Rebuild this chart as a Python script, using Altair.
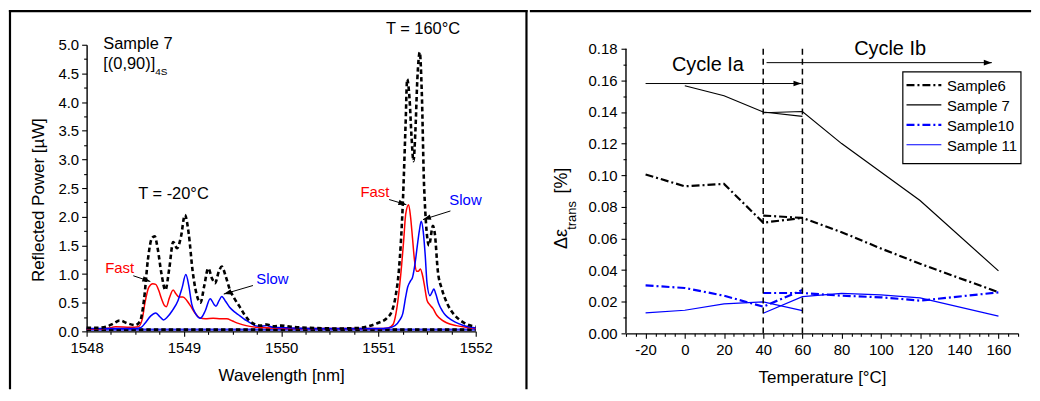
import altair as alt
import numpy as np
import pandas as pd

FONT = "Liberation Sans"

# ---------------- left panel: reflected spectra of sample 7 ----------------
total_wl = [1548.00, 1548.10, 1548.20, 1548.28, 1548.34, 1548.42, 1548.50, 1548.55, 1548.59,
            1548.63, 1548.67, 1548.70, 1548.73, 1548.77, 1548.81, 1548.85, 1548.89, 1548.93,
            1548.97, 1549.01, 1549.05, 1549.09, 1549.13, 1549.17, 1549.21, 1549.25, 1549.29,
            1549.32, 1549.36, 1549.39, 1549.43, 1549.47, 1549.52, 1549.57, 1549.62, 1549.67,
            1549.72, 1549.79, 1549.85, 1549.92, 1550.00, 1550.10, 1550.30, 1550.60, 1550.80,
            1550.90, 1551.00, 1551.08, 1551.14, 1551.18, 1551.21, 1551.25, 1551.28, 1551.295,
            1551.32, 1551.34, 1551.36, 1551.38, 1551.40, 1551.425, 1551.445, 1551.47, 1551.52,
            1551.56, 1551.58, 1551.61, 1551.65, 1551.69, 1551.74, 1551.79, 1551.86, 1551.93,
            1552.00]
total_p = [0.06, 0.06, 0.08, 0.14, 0.19, 0.14, 0.11, 0.18, 0.55,
           1.25, 1.62, 1.66, 1.45, 1.00, 0.72, 1.10, 1.56, 1.45,
           1.65, 2.03, 1.70, 1.05, 0.65, 0.50, 0.80, 1.10, 0.92,
           0.84, 1.05, 1.13, 0.96, 0.74, 0.57, 0.44, 0.30, 0.19,
           0.13, 0.10, 0.12, 0.09, 0.10, 0.08, 0.06, 0.05, 0.06,
           0.09, 0.15, 0.22, 0.36, 0.65, 1.06, 2.21, 3.66, 4.40,
           4.05, 3.40, 2.97, 3.50, 4.40, 4.87, 4.20, 2.50, 1.50,
           1.84, 1.70, 1.06, 0.75, 0.55, 0.38, 0.27, 0.17, 0.11,
           0.08]

fast_wl = [1548.00, 1548.20, 1548.30, 1548.45, 1548.53, 1548.57, 1548.60, 1548.64, 1548.68,
           1548.71, 1548.74, 1548.77, 1548.80, 1548.82, 1548.85, 1548.89, 1548.92, 1548.95,
           1548.99, 1549.03, 1549.07, 1549.11, 1549.16, 1549.22, 1549.30, 1549.38, 1549.44,
           1549.50, 1549.56, 1549.64, 1549.75, 1549.90, 1550.20, 1550.80, 1551.00, 1551.10,
           1551.15, 1551.18, 1551.23, 1551.26, 1551.28, 1551.31, 1551.33, 1551.35, 1551.37,
           1551.39, 1551.41, 1551.43, 1551.45, 1551.47, 1551.50, 1551.53, 1551.56, 1551.60,
           1551.65, 1551.70, 1551.80, 1551.90, 1552.00]
fast_p = [0.04, 0.05, 0.08, 0.07, 0.08, 0.20, 0.50, 0.77, 0.83,
          0.82, 0.72, 0.57, 0.45, 0.43, 0.58, 0.72, 0.65, 0.60,
          0.60, 0.54, 0.44, 0.33, 0.24, 0.22, 0.23, 0.22, 0.22,
          0.18, 0.14, 0.10, 0.07, 0.06, 0.05, 0.05, 0.05, 0.06,
          0.12, 0.31, 1.00, 1.60, 2.04, 2.21, 2.00, 1.63, 1.25,
          1.05, 1.05, 1.09, 1.00, 0.83, 0.54, 0.46, 0.40, 0.28,
          0.20, 0.15, 0.10, 0.07, 0.05]

slow_wl = [1548.00, 1548.50, 1548.56, 1548.60, 1548.66, 1548.71, 1548.75, 1548.79, 1548.83,
           1548.88, 1548.94, 1548.98, 1549.02, 1549.05, 1549.08, 1549.12, 1549.17, 1549.22,
           1549.27, 1549.31, 1549.33, 1549.36, 1549.39, 1549.43, 1549.47, 1549.52, 1549.56,
           1549.60, 1549.64, 1549.69, 1549.73, 1549.78, 1549.85, 1549.92, 1550.10, 1550.50,
           1551.00, 1551.10, 1551.17, 1551.22, 1551.25, 1551.28, 1551.30, 1551.33, 1551.35,
           1551.38, 1551.40, 1551.42, 1551.44, 1551.46, 1551.48, 1551.50, 1551.53, 1551.55,
           1551.57, 1551.59, 1551.62, 1551.66, 1551.69, 1551.75, 1551.83, 1551.92, 1552.00]
slow_p = [0.05, 0.05, 0.07, 0.14, 0.27, 0.32, 0.26, 0.20, 0.25,
          0.36, 0.54, 0.75, 0.99, 0.80, 0.48, 0.31, 0.23, 0.36,
          0.57, 0.47, 0.44, 0.53, 0.61, 0.52, 0.42, 0.34, 0.29,
          0.24, 0.19, 0.14, 0.10, 0.09, 0.10, 0.07, 0.06, 0.05,
          0.05, 0.06, 0.10, 0.20, 0.31, 0.60, 0.77, 0.88, 0.94,
          1.23, 1.50, 1.75, 1.92, 1.75, 1.35, 0.83, 0.62, 0.68,
          0.74, 0.65, 0.48, 0.35, 0.28, 0.20, 0.13, 0.08, 0.06]

base_wl = [1548.0, 1552.0]
base_p = [0.03, 0.03]

# ---------------- right panel: transverse strain difference ----------------
temp_ia = [-20, 0, 20, 40, 60]
temp_ib = [40, 60, 80, 100, 120, 160]
s6_ia = [0.1005, 0.0930, 0.0945, 0.0700, 0.0730]
s6_ib = [0.0745, 0.0730, 0.0640, 0.0537, 0.0440, 0.0260]
s7_ia = [np.nan, 0.1566, 0.1503, 0.1400, 0.1372]
s7_ib = [0.1395, 0.1403, 0.1200, 0.1020, 0.0840, 0.0395]
s10_ia = [0.0303, 0.0287, 0.0238, 0.0169, 0.0274]
s10_ib = [0.0255, 0.0255, 0.0238, 0.0228, 0.0207, 0.0259]
s11_ia = [0.0130, 0.0146, 0.0186, 0.0199, 0.0144]
s11_ib = [0.0127, 0.0232, 0.0253, 0.0243, 0.0224, 0.0109]
series_names = ["Sample6", "Sample 7", "Sample10", "Sample 11"]

# ---------------- helpers ----------------
W1, H1 = 391, 288
W2, H2 = 394, 290
Y2_TOP = 0.18 * 290.3 / 286.3   # right y-axis ends at 0.18, 4 px below the panel top


def make_axis(values, test, label, title, **kw):
    return alt.Axis(
        values=values,
        labelExpr=f"({test}) ? {label} : ''",
        tickSize={"condition": {"test": test, "value": 5}, "value": 3},
        title=title,
        grid=False,
        domainColor="black", domainWidth=1.4,
        tickColor="black", tickWidth=1.1,
        labelColor="black", labelFont=FONT, labelFontSize=15,
        titleColor="black", titleFont=FONT, titleFontSize=17, titleFontWeight="normal",
        labelOverlap=False, labelFlush=False,
        **kw,
    )


def rule_px(chart_df, **enc):
    return alt.Chart(chart_df).mark_rule(color="black", strokeWidth=2.2, strokeCap="square").encode(**enc)


ARROW = "M0,0L-2,-0.7L-2,0.7Z"
one = pd.DataFrame({"a": [0]})

# ================= LEFT PANEL =================
xs1 = alt.Scale(domain=[1548, 1552], nice=False, zero=False)
ys1 = alt.Scale(domain=[0, 5], nice=False, zero=False)
ax1x = make_axis([1548 + 0.25 * i for i in range(17)], "datum.value % 1 === 0",
                 "format(datum.value, 'd')", "Wavelength [nm]",
                 labelPadding=4, titleY=44, titleBaseline="middle")
ax1y = make_axis([0.25 * i for i in range(21)], "(datum.value * 2) % 1 === 0",
                 "format(datum.value, '.1f')", "Reflected Power [µW]",
                 labelPadding=3, titleX=-48.7, titleY=155.6, titleAlign="center",
                 titleBaseline="middle", titleAngle=270)
X1 = alt.X("wl:Q", scale=xs1, axis=ax1x)
Y1 = alt.Y("p:Q", scale=ys1, axis=ax1y)


def spec(wl, p):
    return pd.DataFrame({"wl": wl, "p": p})


base_blue = alt.Chart(spec(base_wl, base_p)).mark_line(color="#3030ff", strokeWidth=2.2).encode(x=X1, y=Y1)
base_dash = alt.Chart(spec(base_wl, base_p)).mark_line(color="black", strokeWidth=2.6, strokeDash=[4.5, 3]).encode(x=X1, y=Y1)
fast_line = alt.Chart(spec(fast_wl, fast_p)).mark_line(color="#ff0000", strokeWidth=1.5, interpolate="monotone").encode(x=X1, y=Y1)
slow_line = alt.Chart(spec(slow_wl, slow_p)).mark_line(color="#0000ff", strokeWidth=1.5, interpolate="monotone").encode(x=X1, y=Y1)
total_line = alt.Chart(spec(total_wl, total_p)).mark_line(color="black", strokeWidth=2.6, strokeDash=[4.5, 3], interpolate="monotone").encode(x=X1, y=Y1)

left_centre = pd.DataFrame({
    "wl": [1548.893, 1551.458, 1548.34, 1549.91, 1550.964, 1551.895],
    "p": [2.39, 5.27, 1.10, 0.91, 2.43, 2.29],
    "txt": ["T = -20°C", "T = 160°C", "Fast", "Slow", "Fast", "Slow"],
    "c": ["black", "black", "#ff0000", "#0000ff", "#ff0000", "#0000ff"],
    "fs": [16.5, 16.5, 15, 15, 15, 15],
})
left_leftal = pd.DataFrame({
    "wl": [1548.171, 1548.171, 1548.706],
    "p": [5.01, 4.67, 4.52],
    "txt": ["Sample 7", "[(0,90)]", "4S"],
    "c": ["black", "black", "black"],
    "fs": [16.5, 16.5, 10],
})
txt_c1 = alt.Chart(left_centre).mark_text(font=FONT, align="center", baseline="middle").encode(
    x=X1, y=Y1, text="txt:N", color=alt.Color("c:N", scale=None), size=alt.Size("fs:Q", scale=None))
txt_l1 = alt.Chart(left_leftal).mark_text(font=FONT, align="left", baseline="middle").encode(
    x=X1, y=Y1, text="txt:N", color=alt.Color("c:N", scale=None), size=alt.Size("fs:Q", scale=None))

arrows1 = pd.DataFrame({
    "wl": [1548.48, 1549.71, 1551.11, 1551.74],
    "p": [0.97, 0.80, 2.30, 2.10],
    "wl2": [1548.655, 1549.41, 1551.287, 1551.458],
    "p2": [0.87, 0.65, 2.21, 1.95],
})
dxp = (arrows1["wl2"] - arrows1["wl"]) * W1 / 4.0
dyp = -(arrows1["p2"] - arrows1["p"]) * H1 / 5.0
arrows1["ang"] = np.degrees(np.arctan2(dyp, dxp)) % 360
arr_line1 = alt.Chart(arrows1).mark_rule(color="black", strokeWidth=1).encode(
    x=X1, y=Y1, x2="wl2:Q", y2="p2:Q")
arr_head1 = alt.Chart(arrows1).mark_point(shape=ARROW, filled=True, color="black", size=64, opacity=1).encode(
    x=alt.X("wl2:Q", scale=xs1, axis=ax1x), y=alt.Y("p2:Q", scale=ys1, axis=ax1y),
    angle=alt.Angle("ang:Q", scale=None))

frame_left = rule_px(one, x=alt.value(-77), y=alt.value(-33.7), y2=alt.value(345))
frame_top1 = rule_px(one, x=alt.value(-77), x2=alt.value(442), y=alt.value(-33.7))
frame_div = rule_px(one, x=alt.value(442), y=alt.value(-33.7), y2=alt.value(345))

left = alt.layer(
    base_blue, base_dash, fast_line, slow_line, total_line,
    txt_c1, txt_l1, arr_line1, arr_head1,
    frame_left, frame_top1, frame_div,
).properties(width=W1, height=H1)

# ================= RIGHT PANEL =================
xs2 = alt.Scale(domain=[-30, 170], nice=False, zero=False)
ys2 = alt.Scale(domain=[0, Y2_TOP], nice=False, zero=False)
ax2x = make_axis(list(range(-30, 171, 5)), "datum.value % 20 === 0",
                 "('' + datum.value)", "Temperature [°C]",
                 labelPadding=4, titleY=44, titleBaseline="middle")
ax2y = make_axis([round(0.01 * i, 2) for i in range(19)], "round(datum.value * 100) % 2 === 0",
                 "format(datum.value, '.2f')", "", labelPadding=4, domain=False)
X2 = alt.X("T:Q", scale=xs2, axis=ax2x)
Y2 = alt.Y("v:Q", scale=ys2, axis=ax2y)

series_vals = {
    "Sample6": (s6_ia, s6_ib),
    "Sample 7": (s7_ia, s7_ib),
    "Sample10": (s10_ia, s10_ib),
    "Sample 11": (s11_ia, s11_ib),
}
styles = {
    "Sample6": dict(color="black", strokeWidth=2.2, strokeDash=[8, 3, 2, 3]),
    "Sample 7": dict(color="black", strokeWidth=1.2),
    "Sample10": dict(color="#0000ff", strokeWidth=2.2, strokeDash=[8, 3, 2, 3]),
    "Sample 11": dict(color="#0000ff", strokeWidth=1.2),
}

right_layers = []
for name in series_names:
    ia, ib = series_vals[name]
    df = pd.concat([
        pd.DataFrame({"T": temp_ia, "v": ia, "cycle": "Ia"}),
        pd.DataFrame({"T": temp_ib, "v": ib, "cycle": "Ib"}),
    ]).dropna()
    right_layers.append(
        alt.Chart(df).mark_line(**styles[name]).encode(x=X2, y=Y2, detail="cycle:N"))

# y axis line from 0 to 0.18
yspine = pd.DataFrame({"v": [0.0], "v2": [0.18]})
yaxis_line = alt.Chart(yspine).mark_rule(color="black", strokeWidth=1.4).encode(
    x=alt.value(0), y=Y2, y2="v2:Q")

vlines = pd.DataFrame({"T": [40, 60], "v": [0.0, 0.0], "v2": [0.18, 0.18]})
vrule = alt.Chart(vlines).mark_rule(color="black", strokeWidth=1.5, strokeDash=[6, 4]).encode(
    x=X2, y=Y2, y2="v2:Q")

arrows2 = pd.DataFrame({"T": [-20, 41.7], "T2": [59.5, 156.6], "v": [0.158, 0.1712]})
arr_line2 = alt.Chart(arrows2).mark_rule(color="black", strokeWidth=1).encode(x=X2, x2="T2:Q", y=Y2)
arr_head2 = alt.Chart(arrows2).mark_point(shape=ARROW, filled=True, color="black", size=64, opacity=1).encode(
    x=alt.X("T2:Q", scale=xs2, axis=ax2x), y=Y2)

cycles = pd.DataFrame({"T": [11.8, 104.7], "v": [0.1695, 0.1800], "txt": ["Cycle Ia", "Cycle Ib"]})
cyc_txt = alt.Chart(cycles).mark_text(font=FONT, fontSize=20, align="center", baseline="middle", color="black").encode(
    x=X2, y=Y2, text="txt:N")

# y-axis title with subscript (pixel offsets from the panel's top-left corner)
yt1 = alt.Chart(one).mark_text(text="Δε", font=FONT, fontSize=18, angle=270, align="center", baseline="middle", color="black").encode(
    x=alt.value(-64.5), y=alt.value(195.3))
yt2 = alt.Chart(one).mark_text(text="trans", font=FONT, fontSize=13, angle=270, align="center", baseline="middle", color="black").encode(
    x=alt.value(-54.3), y=alt.value(171.5))
yt3 = alt.Chart(one).mark_text(text="[%]", font=FONT, fontSize=18, angle=270, align="center", baseline="middle", color="black").encode(
    x=alt.value(-64.0), y=alt.value(136.5))

# legend
leg_box = alt.Chart(one).mark_rect(fill="white", stroke="black", strokeWidth=1.2).encode(
    x=alt.value(278.2), x2=alt.value(396.9), y=alt.value(27.2), y2=alt.value(119.5))
leg_layers = [leg_box]
for i, name in enumerate(series_names):
    yy = 40.5 + 20 * i
    st = dict(styles[name])
    leg_layers.append(alt.Chart(one).mark_rule(**st).encode(
        x=alt.value(281.9), x2=alt.value(316.9), y=alt.value(yy)))
    leg_layers.append(alt.Chart(one).mark_text(text=name, font=FONT, fontSize=15, align="left", baseline="middle", color="black").encode(
        x=alt.value(322.5), y=alt.value(yy + 1)))

frame_top2 = rule_px(one, x=alt.value(-95.5), x2=alt.value(406), y=alt.value(-33.7))

right = alt.layer(
    *right_layers, yaxis_line, vrule, arr_line2, arr_head2, cyc_txt, yt1, yt2, yt3, *leg_layers, frame_top2,
).properties(width=W2, height=H2)

chart = alt.hconcat(left, right, spacing=0).properties(padding=0).configure_view(strokeWidth=0)
chart.save("out.html", embed_options={"renderer": "svg", "actions": False})
